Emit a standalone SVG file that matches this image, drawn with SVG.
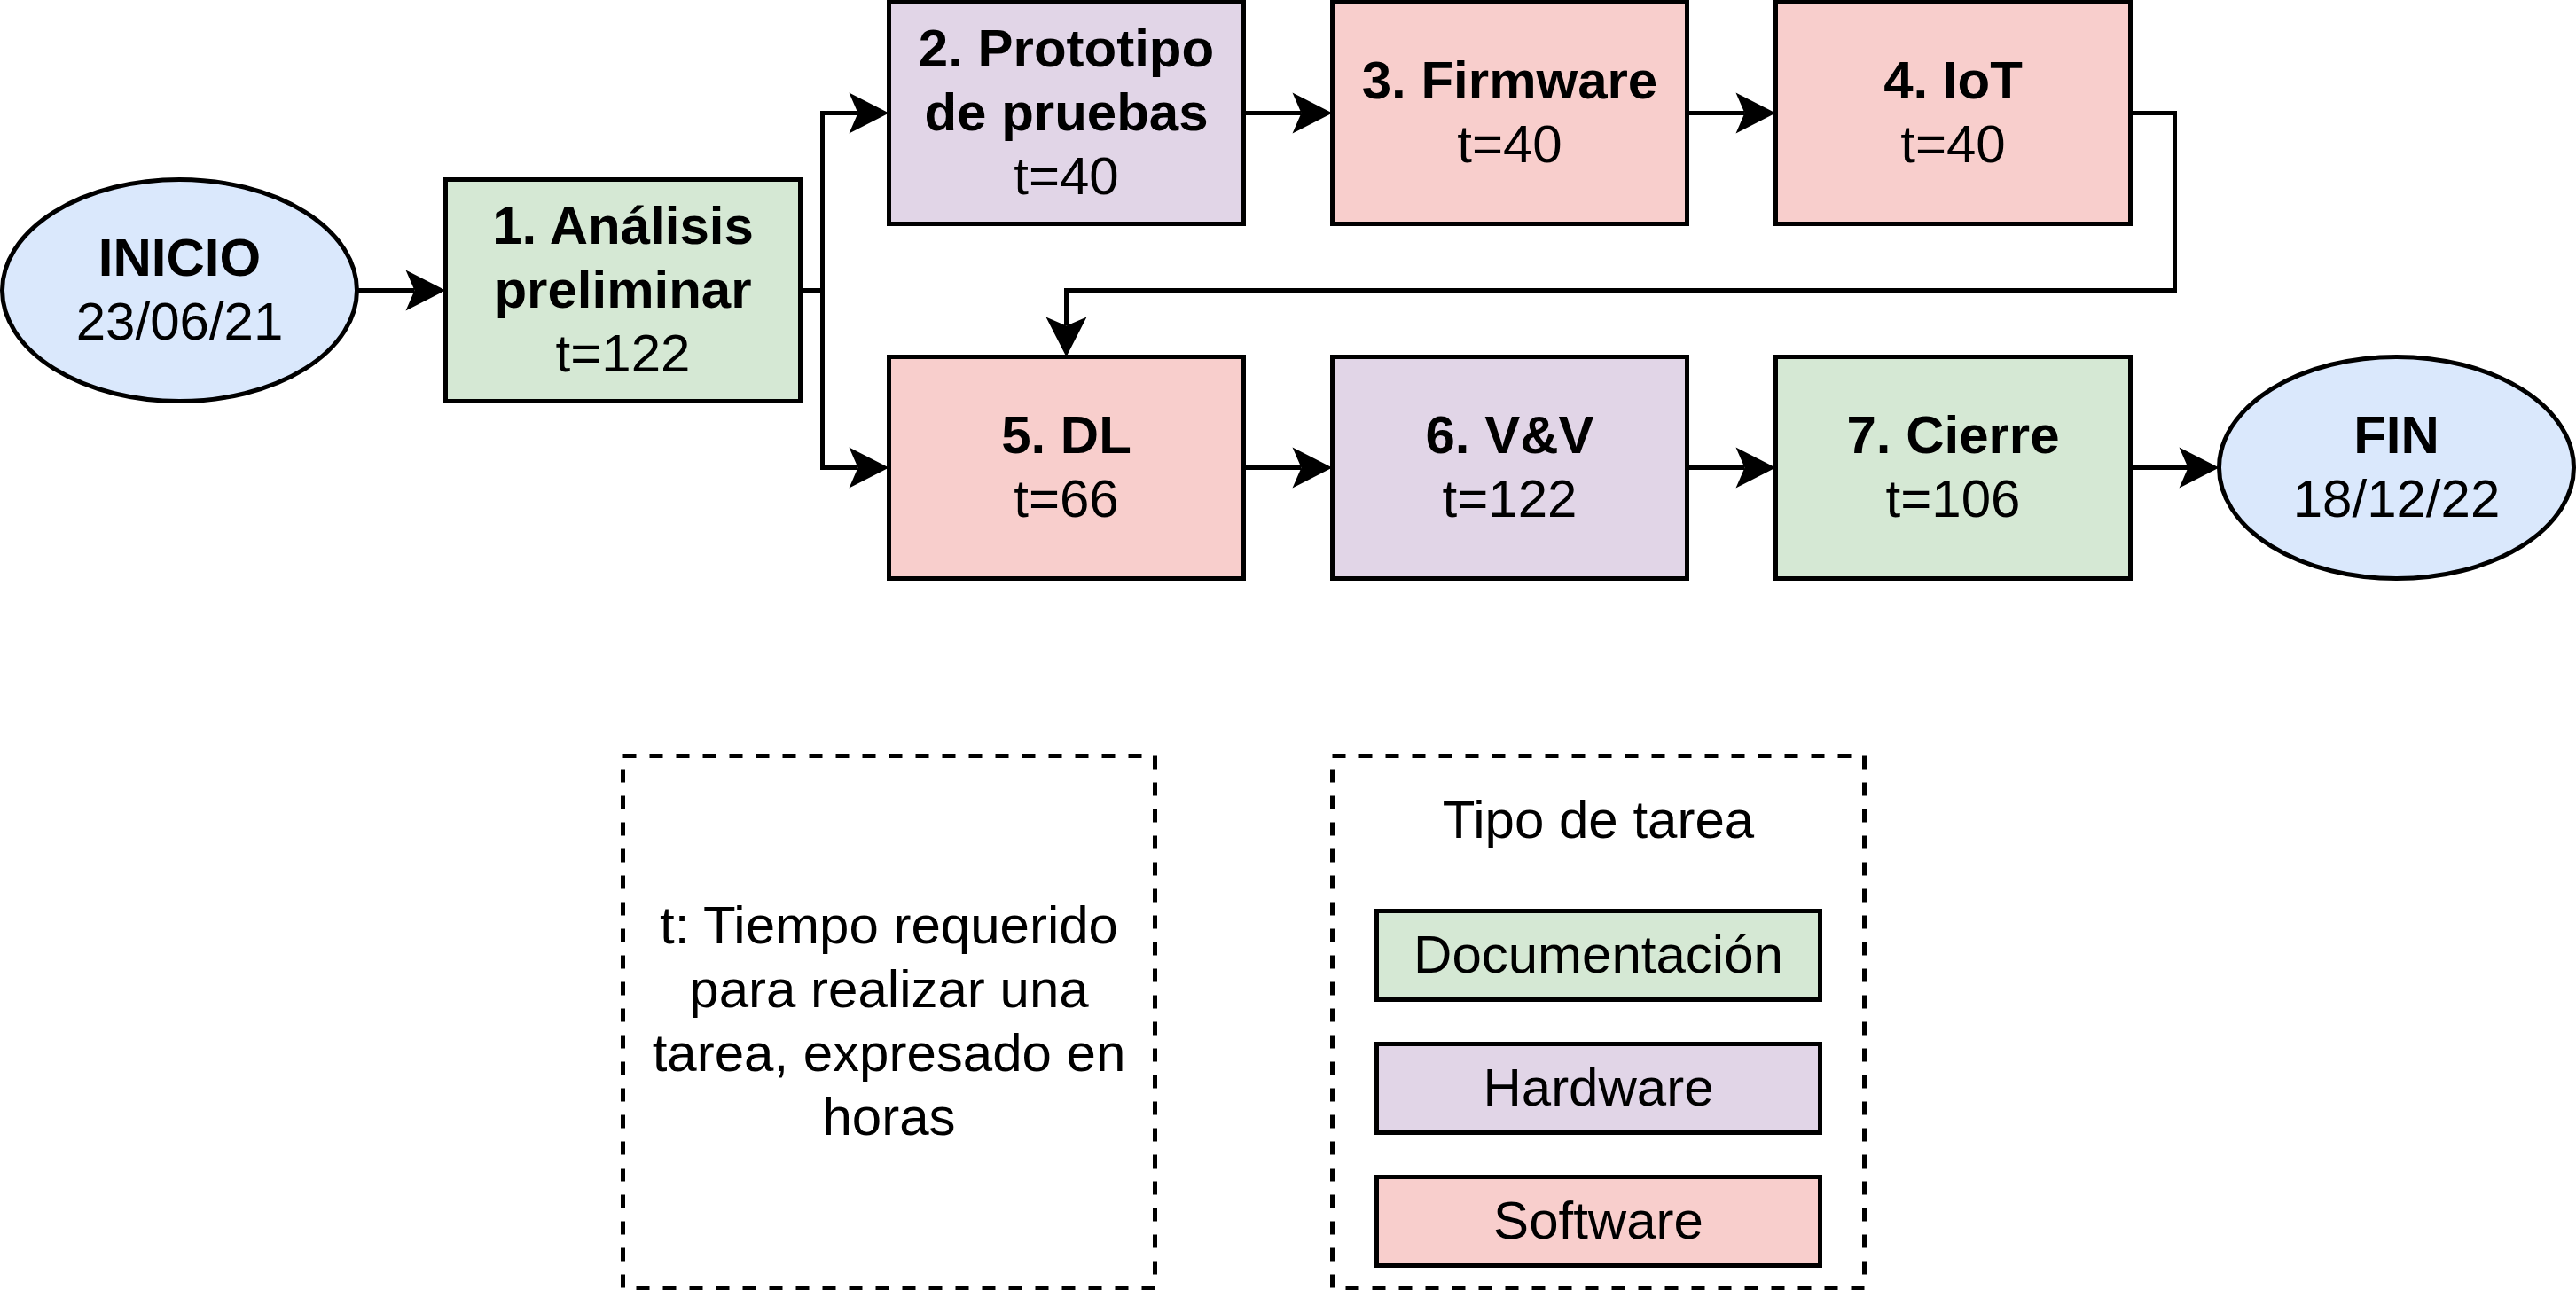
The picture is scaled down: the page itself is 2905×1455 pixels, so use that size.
<svg xmlns="http://www.w3.org/2000/svg" width="2905" height="1455" viewBox="0 0 2905 1455">
<style>
.node{stroke:#000000;stroke-width:5;}
.blue{fill:#dae8fc;}
.green{fill:#d5e8d4;}
.purple{fill:#e1d5e7;}
.red{fill:#f8cecc;}
.legend{fill:#ffffff;stroke:#000000;stroke-width:5;stroke-dasharray:15 15;}
.edge{fill:none;stroke:#000000;stroke-width:5;stroke-linejoin:miter;marker-end:url(#arrow);}
text{font-family:"Liberation Sans",Arial,Helvetica,sans-serif;font-size:60px;fill:#000000;text-anchor:middle;}
.b{font-weight:bold;}
</style>
<defs>
<marker id="arrow" markerUnits="userSpaceOnUse" markerWidth="46" markerHeight="46" viewBox="0 0 46 46" refX="10" refY="23" orient="auto" overflow="visible">
<path d="M0 0 L45 23 L0 46 L10 23 Z" fill="#000000"/>
</marker>
</defs>
<rect x="0" y="0" width="2905" height="1455" fill="#ffffff"/>
<g id="connectors">
<path class="edge" d="M402.5 327.5 H467.5"/>
<path class="edge" d="M902.5 327.5 H927.5 V127.5 H967.5"/>
<path class="edge" d="M902.5 327.5 H927.5 V527.5 H967.5"/>
<path class="edge" d="M1402.5 127.5 H1467.5"/>
<path class="edge" d="M1902.5 127.5 H1967.5"/>
<path class="edge" d="M2402.5 127.5 H2452.5 V327.5 H1202.5 V367.5"/>
<path class="edge" d="M1402.5 527.5 H1467.5"/>
<path class="edge" d="M1902.5 527.5 H1967.5"/>
<path class="edge" d="M2402.5 527.5 H2467.5"/>
</g>
<g id="inicio">
<ellipse class="node blue" cx="202.5" cy="327.5" rx="200" ry="125"/>
<text class="b" x="202.5" y="310.5">INICIO</text>
<text x="202.5" y="382.5">23/06/21</text>
</g>
<g id="n1">
<rect class="node green" x="502.5" y="202.5" width="400" height="250"/>
<text class="b" x="702.5" y="274.5">1. Análisis</text>
<text class="b" x="702.5" y="346.5">preliminar</text>
<text x="702.5" y="418.5">t=122</text>
</g>
<g id="n2">
<rect class="node purple" x="1002.5" y="2.5" width="400" height="250"/>
<text class="b" x="1202.5" y="74.5">2. Prototipo</text>
<text class="b" x="1202.5" y="146.5">de pruebas</text>
<text x="1202.5" y="218.5">t=40</text>
</g>
<g id="n3">
<rect class="node red" x="1502.5" y="2.5" width="400" height="250"/>
<text class="b" x="1702.5" y="110.5">3. Firmware</text>
<text x="1702.5" y="182.5">t=40</text>
</g>
<g id="n4">
<rect class="node red" x="2002.5" y="2.5" width="400" height="250"/>
<text class="b" x="2202.5" y="110.5">4. IoT</text>
<text x="2202.5" y="182.5">t=40</text>
</g>
<g id="n5">
<rect class="node red" x="1002.5" y="402.5" width="400" height="250"/>
<text class="b" x="1202.5" y="510.5">5. DL</text>
<text x="1202.5" y="582.5">t=66</text>
</g>
<g id="n6">
<rect class="node purple" x="1502.5" y="402.5" width="400" height="250"/>
<text class="b" x="1702.5" y="510.5">6. V&amp;V</text>
<text x="1702.5" y="582.5">t=122</text>
</g>
<g id="n7">
<rect class="node green" x="2002.5" y="402.5" width="400" height="250"/>
<text class="b" x="2202.5" y="510.5">7. Cierre</text>
<text x="2202.5" y="582.5">t=106</text>
</g>
<g id="fin">
<ellipse class="node blue" cx="2702.5" cy="527.5" rx="200" ry="125"/>
<text class="b" x="2702.5" y="510.5">FIN</text>
<text x="2702.5" y="582.5">18/12/22</text>
</g>
<g id="legend-tiempo">
<rect class="legend" x="702.5" y="852.5" width="600" height="600"/>
<text x="1002.5" y="1063.5">t: Tiempo requerido</text>
<text x="1002.5" y="1135.5">para realizar una</text>
<text x="1002.5" y="1207.5">tarea, expresado en</text>
<text x="1002.5" y="1279.5">horas</text>
</g>
<g id="legend-tipo">
<rect class="legend" x="1502.5" y="852.5" width="600" height="600"/>
<text x="1802.5" y="945">Tipo de tarea</text>
</g>
<g id="legend-documentacion">
<rect class="node green" x="1552.5" y="1027.5" width="500" height="100"/>
<text x="1802.5" y="1096.5">Documentación</text>
</g>
<g id="legend-hardware">
<rect class="node purple" x="1552.5" y="1177.5" width="500" height="100"/>
<text x="1802.5" y="1246.5">Hardware</text>
</g>
<g id="legend-software">
<rect class="node red" x="1552.5" y="1327.5" width="500" height="100"/>
<text x="1802.5" y="1396.5">Software</text>
</g>
</svg>
